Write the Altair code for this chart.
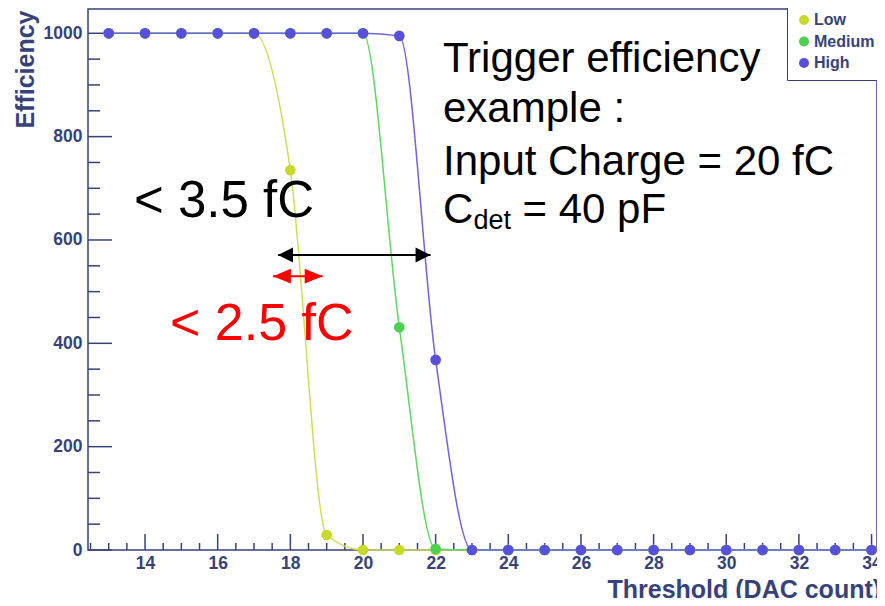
import altair as alt
import pandas as pd

# ---------------- data ----------------
thresholds = [13, 14, 15, 16, 17, 18, 19, 20, 21, 22, 23, 24, 25, 26, 27, 28, 29, 30, 31, 32, 33, 34]
low =    [1000, 1000, 1000, 1000, 1000, 735, 29, 0, 0, 0, 0, 0, 0, 0, 0, 0, 0, 0, 0, 0, 0, 0]
medium = [1000, 1000, 1000, 1000, 1000, 1000, 1000, 1000, 431, 2, 0, 0, 0, 0, 0, 0, 0, 0, 0, 0, 0, 0]
high =   [1000, 1000, 1000, 1000, 1000, 1000, 1000, 1000, 995, 368, 0, 0, 0, 0, 0, 0, 0, 0, 0, 0, 0, 0]

series_names = ["Low", "Medium", "High"]
series_colors = ["#c9d92b", "#4cd150", "#5850dc"]
line_colors = ["#d0dd55", "#5fd662", "#6c64e3"]

x_major = [14, 16, 18, 20, 22, 24, 26, 28, 30, 32, 34]
x_minor = [12.5, 13, 13.5, 14.5, 15, 15.5, 16.5, 17, 17.5, 18.5, 19, 19.5, 20.5, 21, 21.5,
           22.5, 23, 23.5, 24.5, 25, 25.5, 26.5, 27, 27.5, 28.5, 29, 29.5, 30.5, 31, 31.5,
           32.5, 33, 33.5]
y_major = [0, 200, 400, 600, 800, 1000]
y_minor = [50, 100, 150, 250, 300, 350, 450, 500, 550, 650, 700, 750, 850, 900, 950]

# annotation arrows (data coordinates)
arrow_names = ["black", "red"]
arrow_x1 = [17.66, 17.52]
arrow_x2 = [21.86, 18.89]
arrow_y = [571, 530]

NAVY = "#37427a"
FONT = "Liberation Sans"
W, H = 789, 541

rows = []
for name, vals in zip(series_names, [low, medium, high]):
    for t, v in zip(thresholds, vals):
        rows.append({"series": name, "threshold": t, "eff": v})
df = pd.DataFrame(rows)

xscale = alt.Scale(domain=[12.43, 34.15], nice=False, zero=False)
yscale = alt.Scale(domain=[0, 1047], nice=False, zero=True)

x_axis = alt.Axis(values=x_major, format="d", grid=False, ticks=False, domain=False,
                  labelFont=FONT, labelFontWeight="bold", labelFontSize=17.5, labelColor=NAVY,
                  labelPadding=4, labelFlush=False, labelOverlap=False,
                  title="Threshold (DAC count)", titleFont=FONT, titleFontWeight="bold",
                  titleFontSize=25, titleColor=NAVY, titleX=519, titleY=47,
                  titleAlign="left", titleBaseline="alphabetic")
y_axis = alt.Axis(values=y_major, format="d", grid=False, ticks=False, domain=False,
                  labelFont=FONT, labelFontWeight="bold", labelFontSize=17.5, labelColor=NAVY,
                  labelPadding=6, labelFlush=False, labelOverlap=False,
                  title="Efficiency", titleFont=FONT, titleFontWeight="bold",
                  titleFontSize=25, titleColor=NAVY, titleAngle=270, titleX=-55, titleY=1,
                  titleAlign="right", titleBaseline="alphabetic")

X = lambda f: alt.X(f, type="quantitative", scale=xscale, axis=x_axis)
Y = lambda f: alt.Y(f, type="quantitative", scale=yscale, axis=y_axis)

layers = []

# inward ticks
xt_major = pd.DataFrame({"v": x_major})
xt_minor = pd.DataFrame({"v": x_minor})
yt_major = pd.DataFrame({"v": y_major})
yt_minor = pd.DataFrame({"v": y_minor})
layers.append(alt.Chart(xt_major).mark_rule(color=NAVY, strokeWidth=1.5).encode(
    x=X("v"), y=alt.value(H), y2=alt.value(H - 16)))
layers.append(alt.Chart(xt_minor).mark_rule(color=NAVY, strokeWidth=1.5).encode(
    x=X("v"), y=alt.value(H), y2=alt.value(H - 7)))
layers.append(alt.Chart(yt_major).mark_rule(color=NAVY, strokeWidth=1.5).encode(
    y=Y("v"), x=alt.value(0), x2=alt.value(24)))
layers.append(alt.Chart(yt_minor).mark_rule(color=NAVY, strokeWidth=1.5).encode(
    y=Y("v"), x=alt.value(0), x2=alt.value(12)))

# curves
for name, lc in zip(series_names, line_colors):
    layers.append(alt.Chart(df).transform_filter(alt.datum.series == name).mark_line(
        interpolate="monotone", strokeWidth=1.5, color=lc).encode(
        x=X("threshold"), y=Y("eff")))

# points
layers.append(alt.Chart(df).mark_circle(size=115, opacity=1).encode(
    x=X("threshold"), y=Y("eff"),
    color=alt.Color("series:N", scale=alt.Scale(domain=series_names, range=series_colors),
                    legend=alt.Legend(title=None, orient="none", legendX=699, legendY=-6,
                                      fillColor="white", strokeColor=NAVY, padding=9,
                                      rowPadding=5.5, symbolType="circle", symbolSize=100,
                                      symbolStrokeWidth=0, labelOffset=2, labelFont=FONT,
                                      labelFontWeight="bold", labelFontSize=16,
                                      labelColor=NAVY, cornerRadius=0))))

# arrows
arr = pd.DataFrame({"name": arrow_names, "x1": arrow_x1, "x2": arrow_x2, "y": arrow_y})
arrow_cols = {"black": "black", "red": "#ff0000"}
head_len = {"black": 15, "red": 18}
head_h = {"black": 1.0, "red": 0.83}
for n in arrow_names:
    base = alt.Chart(arr).transform_filter(alt.datum.name == n)
    c = arrow_cols[n]
    L = head_len[n]
    h = head_h[n]
    layers.append(base.mark_rule(color=c, strokeWidth=2).encode(x=X("x1"), x2="x2", y=Y("y")))
    layers.append(base.mark_point(filled=True, opacity=1, strokeWidth=0, color=c,
                                  shape=f"M0,0L2,-{h}L2,{h}Z", size=L * L).encode(
        x=X("x1"), y=Y("y")))
    layers.append(base.mark_point(filled=True, opacity=1, strokeWidth=0, color=c,
                                  shape=f"M0,0L-2,-{h}L-2,{h}Z", size=L * L).encode(
        x=X("x2"), y=Y("y")))

# text annotations
one = pd.DataFrame({"a": [0]})


def txt(s, x, y, size, color="black"):
    return alt.Chart(one).mark_text(text=s, align="left", baseline="alphabetic", font=FONT,
                                    fontSize=size, color=color).encode(
        x=alt.value(x), y=alt.value(y))


layers += [
    txt("Trigger efficiency", 355, 63, 42),
    txt("example :", 355, 113, 42),
    txt("Input Charge = 20 fC", 355, 166, 42),
    txt("C", 355, 214, 42),
    txt("det", 385.5, 220, 27),
    txt("= 40 pF", 434.5, 214, 42),
    txt("< 3.5 fC", 46, 208, 51),
    txt("< 2.5 fC", 82, 331, 52, "#ff0000"),
]

chart = alt.layer(*layers).properties(
    width=W, height=H,
    padding={"left": 80, "top": 1, "right": 0, "bottom": 48},
    autosize=alt.AutoSizeParams(type="none"),
    background="white",
).configure_view(stroke=NAVY, strokeWidth=1.5)

chart.save("out.html", embed_options={"renderer": "svg", "actions": False})
